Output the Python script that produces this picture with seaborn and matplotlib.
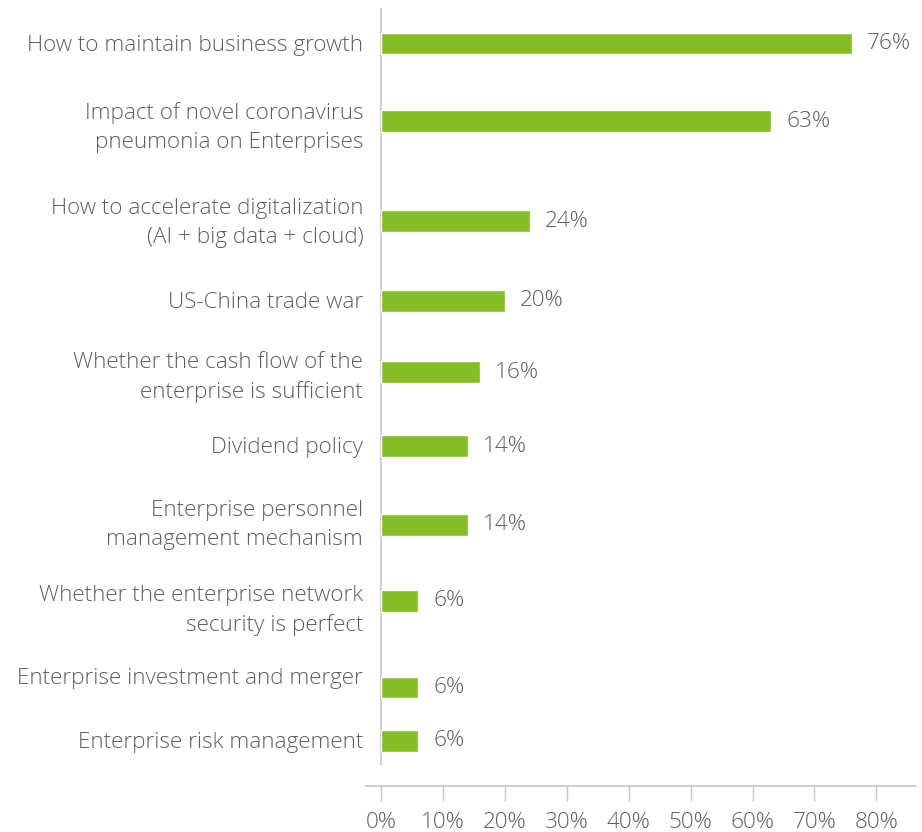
import matplotlib
matplotlib.use("Agg")
import matplotlib.pyplot as plt
import seaborn as sns
import pandas as pd

# Survey topics and share of respondents (%)
topics = [
    "How to maintain business growth",
    "Impact of novel coronavirus\npneumonia on Enterprises",
    "How to accelerate digitalization\n(AI + big data + cloud)",
    "US-China trade war",
    "Whether the cash flow of the\nenterprise is sufficient",
    "Dividend policy",
    "Enterprise personnel\nmanagement mechanism",
    "Whether the enterprise network\nsecurity is perfect",
    "Enterprise investment and merger",
    "Enterprise risk management",
]
shares = [76, 63, 24, 20, 16, 14, 14, 6, 6, 6]
tick_values = [0, 10, 20, 30, 40, 50, 60, 70, 80]
tick_labels = [f"{v}%" for v in tick_values]

# Layout: vertical slot of each row (top = 0) and of its text label
row_slots = [43.5, 121, 221, 301, 372, 446, 525, 601, 687.5, 741]
label_slots = [43, 121.5, 216.5, 300, 371, 445, 518.5, 603.5, 676, 740]
y_top, y_bottom, line_end = 8, 786, 765

GREEN = "#86BC25"
TEXT = "#5e5e5e"
LINE = "#c6c6c6"
FS = 16.2

sns.set_theme(style="white")
plt.rcParams["font.family"] = ["Open Sans", "DejaVu Sans"]
plt.rcParams["font.weight"] = "light"

df = pd.DataFrame({"topic": topics, "share": shares, "slot": row_slots})

fig = plt.figure(figsize=(9.22, 8.32), dpi=100)
ax = fig.add_axes([366 / 922, 1 - y_bottom / 832, (916 - 366) / 922, (y_bottom - y_top) / 832])

bar_px = 21.5
min_gap = min(b - a for a, b in zip(row_slots[:-1], row_slots[1:]))
sns.barplot(data=df, x="share", y="slot", orient="y", native_scale=True,
            color=GREEN, saturation=1, width=bar_px / min_gap, ax=ax)

ax.set_xlim(-2.42, 86.4)
ax.set_ylim(y_bottom, y_top)

# value labels at the end of each bar
for v, s in zip(shares, row_slots):
    ax.annotate(f"{v}%", (v, s), xytext=(11, 0), textcoords="offset points",
                ha="left", va="center", fontsize=FS, color=TEXT)

# category labels
ax.set_yticks(label_slots)
ax.set_yticklabels(topics, fontsize=FS, color=TEXT, linespacing=1.5)
ax.tick_params(axis="y", length=0, pad=2)

# x axis
ax.set_xticks(tick_values)
ax.set_xticklabels(tick_labels, fontsize=FS, color=TEXT)
ax.tick_params(axis="x", direction="out", length=11, width=1, color=LINE,
               pad=8, bottom=True)
ax.set_xlabel("")
ax.set_ylabel("")

for side in ["top", "right", "left"]:
    ax.spines[side].set_visible(False)
ax.spines["bottom"].set_color(LINE)
ax.spines["bottom"].set_linewidth(1.2)

# vertical baseline at 0%
ax.vlines(0, y_top, line_end, color=LINE, linewidth=1.2, zorder=0)

fig.savefig("out.png", dpi=100, facecolor="white")
